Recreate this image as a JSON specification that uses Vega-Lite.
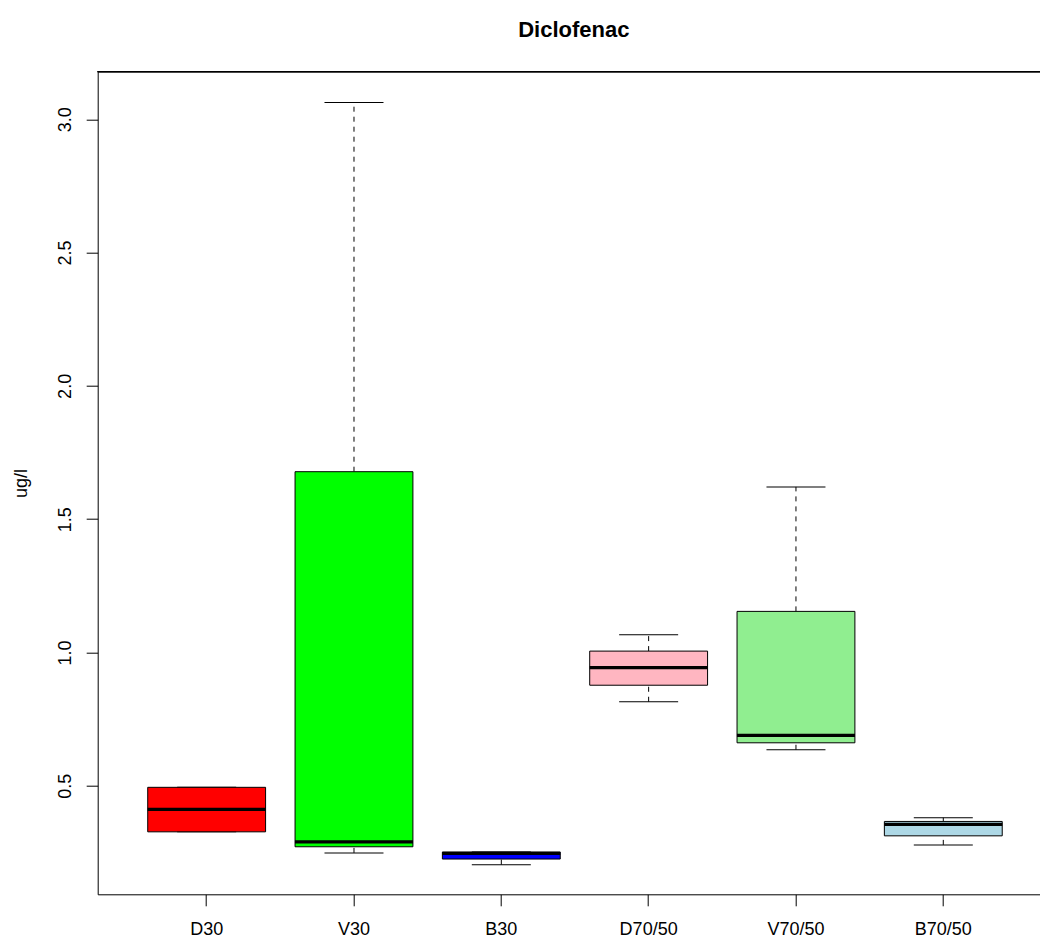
{
  "$schema": "https://vega.github.io/schema/vega-lite/v6.json",
  "autosize": {"type": "none"},
  "padding": {"left": 97.7, "top": 71.7, "right": 0, "bottom": 45.7},
  "width": 942.3,
  "height": 822.6,
  "background": "white",
  "title": {
    "text": "Diclofenac",
    "fontSize": 22,
    "fontWeight": "bold",
    "font": "Liberation Sans",
    "color": "black",
    "anchor": "middle",
    "frame": "group",
    "baseline": "alphabetic",
    "offset": 11.7,
    "dx": 5
  },
  "config": {
    "font": "Liberation Sans",
    "view": {"stroke": null},
    "axis": {
      "domainColor": "black",
      "tickColor": "black",
      "labelColor": "black",
      "titleColor": "black",
      "grid": false,
      "labelFont": "Liberation Sans",
      "titleFont": "Liberation Sans",
      "labelFontSize": 18,
      "titleFontSize": 18,
      "titleFontWeight": "normal",
      "tickSize": 11.5,
      "domainWidth": 1,
      "tickWidth": 1
    }
  },
  "data": {
    "values": [
      {"group": "D30", "min": 0.327, "q1": 0.327, "median": 0.411, "q3": 0.494, "max": 0.494},
      {"group": "V30", "min": 0.248, "q1": 0.271, "median": 0.289, "q3": 1.678, "max": 3.063},
      {"group": "B30", "min": 0.204, "q1": 0.225, "median": 0.246, "q3": 0.251, "max": 0.251},
      {"group": "D70/50", "min": 0.815, "q1": 0.877, "median": 0.943, "q3": 1.005, "max": 1.066},
      {"group": "V70/50", "min": 0.635, "q1": 0.661, "median": 0.689, "q3": 1.154, "max": 1.621},
      {"group": "B70/50", "min": 0.278, "q1": 0.312, "median": 0.355, "q3": 0.366, "max": 0.380}
    ]
  },
  "encoding": {
    "x": {
      "field": "group",
      "type": "nominal",
      "sort": null,
      "scale": {
        "type": "band",
        "domain": ["D30", "V30", "B30", "D70/50", "V70/50", "B70/50"],
        "paddingInner": 0,
        "paddingOuter": 0.198,
        "align": 0.605
      },
      "axis": {"title": null, "labelAngle": 0, "labelPadding": 15}
    }
  },
  "layer": [
    {
      "mark": {"type": "rule", "color": "black", "strokeWidth": 1, "strokeDash": [5, 5]},
      "encoding": {
        "y": {
          "field": "q3",
          "type": "quantitative",
          "scale": {"domain": [0.0927, 3.1785], "nice": false, "zero": false},
          "axis": {
            "title": "ug/l",
            "values": [0.5, 1, 1.5, 2, 2.5, 3],
            "format": ".1f",
            "labelAngle": -90,
            "labelPadding": 12,
            "titlePadding": 26
          }
        },
        "y2": {"field": "max"}
      }
    },
    {
      "mark": {"type": "rule", "color": "black", "strokeWidth": 1, "strokeDash": [5, 5]},
      "encoding": {
        "y": {"field": "min", "type": "quantitative"},
        "y2": {"field": "q1"}
      }
    },
    {
      "mark": {"type": "tick", "color": "black", "size": 59, "thickness": 1, "opacity": 1},
      "encoding": {"y": {"field": "max", "type": "quantitative"}}
    },
    {
      "mark": {"type": "tick", "color": "black", "size": 59, "thickness": 1, "opacity": 1},
      "encoding": {"y": {"field": "min", "type": "quantitative"}}
    },
    {
      "mark": {"type": "bar", "stroke": "black", "strokeWidth": 1, "width": {"band": 0.8}, "opacity": 1},
      "encoding": {
        "y": {"field": "q1", "type": "quantitative"},
        "y2": {"field": "q3"},
        "fill": {
          "field": "group",
          "type": "nominal",
          "scale": {
            "domain": ["D30", "V30", "B30", "D70/50", "V70/50", "B70/50"],
            "range": ["#FF0000", "#00FF00", "#0000FF", "#FFB6C1", "#90EE90", "#ADD8E6"]
          },
          "legend": null
        }
      }
    },
    {
      "mark": {"type": "tick", "color": "black", "size": 118, "thickness": 3.3, "opacity": 1},
      "encoding": {"y": {"field": "median", "type": "quantitative"}}
    },
    {
      "mark": {"type": "rule", "color": "black", "strokeWidth": 1},
      "encoding": {"y": {"datum": 3.1785}, "x": null}
    }
  ]
}
